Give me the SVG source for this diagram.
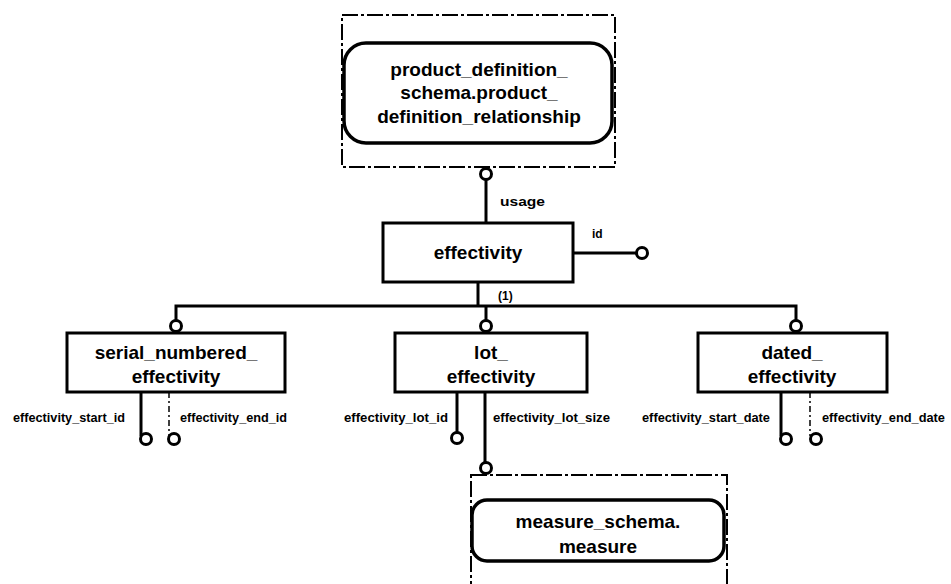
<svg xmlns="http://www.w3.org/2000/svg" width="951" height="584" viewBox="0 0 951 584">
<style>
.bg{fill:#fff}
.box{fill:#fff;stroke:#000;stroke-width:3}
.rbox{fill:#fff;stroke:#000;stroke-width:3.5}
.dash{fill:none;stroke:#000;stroke-width:2;stroke-dasharray:16 3 3 3}
.ln{fill:none;stroke:#000;stroke-width:3}
.dln{fill:none;stroke:#000;stroke-width:1.5;stroke-dasharray:6 3 2 3}
.circ{fill:#fff;stroke:#000;stroke-width:3}
.t{font-family:"Liberation Sans",Arial,sans-serif;font-weight:bold;font-size:19px;fill:#000;text-anchor:middle}
.s{font-family:"Liberation Sans",Arial,sans-serif;font-weight:bold;font-size:12px;fill:#000}
</style>
<rect class="bg" width="951" height="584"/>
<g id="connectors">
  <line class="ln" x1="486" y1="180" x2="486" y2="223"/>
  <line class="ln" x1="573" y1="253" x2="636" y2="253"/>
  <line class="ln" x1="478" y1="282" x2="478" y2="306"/>
  <polyline class="ln" points="176,320 176,306 796,306 796,320"/>
  <line class="ln" x1="486" y1="306" x2="486" y2="320"/>
  <line class="ln" x1="141" y1="392" x2="141" y2="436"/>
  <line class="dln" x1="169" y1="392" x2="169" y2="436"/>
  <line class="ln" x1="457" y1="392" x2="457" y2="432"/>
  <line class="ln" x1="485" y1="392" x2="485" y2="462"/>
  <line class="ln" x1="781" y1="392" x2="781" y2="436"/>
  <line class="dln" x1="810" y1="392" x2="810" y2="436"/>
  <circle class="circ" cx="486" cy="174" r="5.5"/>
  <circle class="circ" cx="642" cy="253" r="5.5"/>
  <circle class="circ" cx="176" cy="326" r="5.5"/>
  <circle class="circ" cx="486" cy="326" r="5.5"/>
  <circle class="circ" cx="796" cy="326" r="5.5"/>
  <circle class="circ" cx="146" cy="439" r="5.5"/>
  <circle class="circ" cx="174" cy="439" r="5.5"/>
  <circle class="circ" cx="457" cy="438" r="5.5"/>
  <circle class="circ" cx="486" cy="468" r="5.5"/>
  <circle class="circ" cx="786" cy="439" r="5.5"/>
  <circle class="circ" cx="816" cy="439" r="5.5"/>
  <text class="s" x="500" y="206" textLength="45" lengthAdjust="spacingAndGlyphs">usage</text>
  <text class="s" x="592" y="238">id</text>
  <text class="s" x="498" y="300">(1)</text>
  <text class="s" x="13" y="422" textLength="112" lengthAdjust="spacingAndGlyphs">effectivity_start_id</text>
  <text class="s" x="180" y="422" textLength="107" lengthAdjust="spacingAndGlyphs">effectivity_end_id</text>
  <text class="s" x="344" y="422" textLength="104" lengthAdjust="spacingAndGlyphs">effectivity_lot_id</text>
  <text class="s" x="493" y="422" textLength="117" lengthAdjust="spacingAndGlyphs">effectivity_lot_size</text>
  <text class="s" x="642" y="422" textLength="128" lengthAdjust="spacingAndGlyphs">effectivity_start_date</text>
  <text class="s" x="822" y="422" textLength="123" lengthAdjust="spacingAndGlyphs">effectivity_end_date</text>
</g>
<g id="node-pdr">
  <rect class="dash" x="342" y="15" width="273" height="152"/>
  <rect class="rbox" x="344" y="43" width="268" height="100" rx="22" ry="22"/>
  <text class="t" x="479" y="76">product_definition_</text>
  <text class="t" x="479" y="99">schema.product_</text>
  <text class="t" x="479" y="123">definition_relationship</text>
</g>
<g id="node-effectivity">
  <rect class="box" x="383" y="223" width="190" height="59"/>
  <text class="t" x="478" y="259">effectivity</text>
</g>
<g id="node-serial">
  <rect class="box" x="67" y="333" width="218" height="59"/>
  <text class="t" x="176" y="359">serial_numbered_</text>
  <text class="t" x="176" y="383">effectivity</text>
</g>
<g id="node-lot">
  <rect class="box" x="395" y="333" width="192" height="59"/>
  <text class="t" x="491" y="359">lot_</text>
  <text class="t" x="491" y="383">effectivity</text>
</g>
<g id="node-dated">
  <rect class="box" x="698" y="333" width="189" height="59"/>
  <text class="t" x="792" y="359">dated_</text>
  <text class="t" x="792" y="383">effectivity</text>
</g>
<g id="node-measure">
  <rect class="dash" x="471" y="475" width="256" height="130"/>
  <rect class="rbox" x="472" y="500" width="252" height="61" rx="15" ry="15"/>
  <text class="t" x="598" y="528">measure_schema.</text>
  <text class="t" x="598" y="553">measure</text>
</g>
</svg>
